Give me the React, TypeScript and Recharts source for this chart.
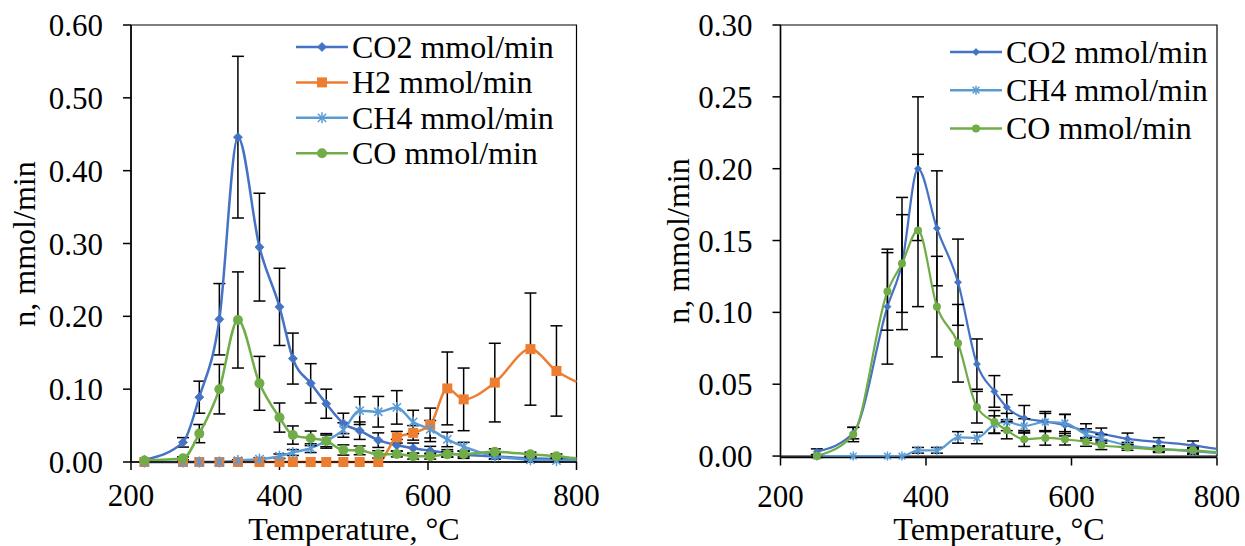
import React from 'react';
import { LineChart, Line, XAxis, YAxis, ErrorBar, ReferenceArea } from 'recharts';

const FONT = '"Liberation Serif", "Times New Roman", serif';
const BLUE = '#4472C4';
const ORANGE = '#ED7D31';
const LBLUE = '#5B9BD5';
const GREEN = '#70AD47';

// ---------- Left chart data ----------
const leftTemps = [218, 270, 292, 319, 344, 373, 400, 418, 442, 463, 486, 508, 533, 558, 580, 603, 626, 648, 690, 738, 773, 800];
const leftCO2 = [0.003, 0.027, 0.089, 0.196, 0.446, 0.295, 0.213, 0.142, 0.108, 0.080, 0.053, 0.043, 0.030, 0.023, 0.019, 0.0155, 0.012, 0.010, 0.008, 0.005, 0.004, 0.003];
const leftCO2Err = [0, 0.0065, 0.022, 0.049, 0.111, 0.074, 0.053, 0.035, 0.027, 0.020, 0.014, 0.012, 0.010, 0.008, 0.007, 0.006, 0.005, 0.005, 0.004, 0.003, 0.002, 0];
const leftH2 = [0, 0, 0, 0, 0, 0, 0, 0, 0, 0, 0, 0, 0, 0.034, 0.040, 0.051, 0.101, 0.086, 0.109, 0.155, 0.125, 0.110];
const leftH2Err = [0, 0, 0, 0, 0, 0, 0, 0, 0, 0, 0, 0, 0, 0.008, 0.010, 0.023, 0.050, 0.043, 0.054, 0.077, 0.062, 0];
const leftCH4 = [0, 0, 0, 0, 0.002, 0.004, 0.008, 0.013, 0.019, 0.029, 0.044, 0.0705, 0.069, 0.075, 0.055, 0.045, 0.031, 0.021, 0.008, 0.003, 0.002, 0.002];
const leftCH4Err = [0, 0, 0, 0, 0.001, 0.002, 0.003, 0.004, 0.006, 0.008, 0.010, 0.019, 0.021, 0.023, 0.016, 0.012, 0.010, 0.006, 0.004, 0.002, 0.001, 0];
const leftCO = [0.002, 0.005, 0.039, 0.100, 0.195, 0.108, 0.061, 0.037, 0.0325, 0.029, 0.0165, 0.016, 0.0105, 0.011, 0.008, 0.008, 0.0105, 0.011, 0.014, 0.0105, 0.008, 0.005];
const leftCOErr = [0, 0.002, 0.0125, 0.034, 0.066, 0.037, 0.020, 0.0125, 0.010, 0.010, 0.007, 0.006, 0.005, 0.004, 0.004, 0.004, 0.004, 0.004, 0.004, 0.003, 0.003, 0];
const leftYTicks = [0, 0.1, 0.2, 0.3, 0.4, 0.5, 0.6];

// ---------- Right chart data ----------
const rightTemps = [250, 300, 347, 367, 389, 415, 444, 470, 494, 511, 535, 564, 591, 620, 641, 677, 720, 767, 800];
const rightCO2 = [0.003, 0.016, 0.104, 0.134, 0.200, 0.1585, 0.121, 0.064, 0.045, 0.034, 0.0265, 0.024, 0.0215, 0.0175, 0.0155, 0.012, 0.0098, 0.0075, 0.005];
const rightCO2Err = [0.002, 0.004, 0.040, 0.046, 0.050, 0.040, 0.030, 0.0175, 0.011, 0.0087, 0.0087, 0.007, 0.0075, 0.005, 0.004, 0.004, 0.003, 0.003, 0];
const rightCH4 = [0, 0, 0, 0, 0.004, 0.004, 0.013, 0.0126, 0.022, 0.0237, 0.021, 0.0237, 0.023, 0.015, 0.012, 0.0075, 0.0052, 0.0033, 0.002];
const rightCH4Err = [0, 0, 0, 0, 0.002, 0.002, 0.004, 0.004, 0.006, 0.006, 0.005, 0.006, 0.006, 0.004, 0.003, 0.002, 0.002, 0.002, 0];
const rightCO = [0.000, 0.015, 0.1146, 0.134, 0.157, 0.104, 0.0785, 0.034, 0.0237, 0.018, 0.0117, 0.0126, 0.0117, 0.0098, 0.0075, 0.006, 0.0045, 0.004, 0.0027];
const rightCOErr = [0.001, 0.005, 0.027, 0.034, 0.053, 0.035, 0.027, 0.011, 0.008, 0.006, 0.005, 0.005, 0.004, 0.003, 0.003, 0.002, 0.002, 0.002, 0];
const rightYTicks = [0, 0.05, 0.1, 0.15, 0.2, 0.25, 0.3];

const xTicks = [200, 400, 600, 800];

const leftData = leftTemps.map((t, i) => ({
  t,
  co2: leftCO2[i], co2e: leftCO2Err[i],
  h2: leftH2[i], h2e: leftH2Err[i],
  ch4: leftCH4[i], ch4e: leftCH4Err[i],
  co: leftCO[i], coe: leftCOErr[i],
  noMark: i === leftTemps.length - 1,
}));

const rightData = rightTemps.map((t, i) => ({
  t,
  co2: rightCO2[i], co2e: rightCO2Err[i],
  ch4: rightCH4[i], ch4e: rightCH4Err[i],
  co: rightCO[i], coe: rightCOErr[i],
  noMark: i === rightTemps.length - 1,
}));

type Shape = 'diamond' | 'square' | 'circle' | 'star';

function Marker({ shape, color, size, x, y }: { shape: Shape; color: string; size: number; x: number; y: number }) {
  if (shape === 'diamond') {
    return <polygon points={`${x},${y - size} ${x + size},${y} ${x},${y + size} ${x - size},${y}`} fill={color} stroke={color} strokeWidth={0.8} />;
  }
  if (shape === 'square') {
    return <rect x={x - size} y={y - size} width={2 * size} height={2 * size} fill={color} />;
  }
  if (shape === 'circle') {
    return <circle cx={x} cy={y} r={size} fill={color} />;
  }
  const d = size * 0.75;
  return (
    <g stroke={color} strokeWidth={1.5}>
      <line x1={x - d} y1={y - d} x2={x + d} y2={y + d} />
      <line x1={x - d} y1={y + d} x2={x + d} y2={y - d} />
      <line x1={x} y1={y - size} x2={x} y2={y + size} />
    </g>
  );
}

function mkDot(shape: Shape, color: string, size: number) {
  return (props: any) => {
    const { cx, cy, index } = props;
    const key = `dot-${shape}-${color}-${index}`;
    if (cx == null || cy == null || (props.payload && props.payload.noMark)) return <g key={key} />;
    return (
      <g key={key}>
        <Marker shape={shape} color={color} size={size} x={cx} y={cy} />
      </g>
    );
  };
}

const tickStyle = { fill: '#000', fontSize: 31, fontFamily: FONT, style: { fontFamily: FONT } };
const axisLineStyle = { stroke: '#000', strokeWidth: 1.5 };

function LegendBox({ left, top, rowGap, items, size }: { left: number; top: number; rowGap: number; items: { label: string; color: string; shape: Shape; size: number }[]; size: number }) {
  return (
    <svg style={{ position: 'absolute', left, top, overflow: 'visible' }} width={280} height={rowGap * items.length}>
      {items.map((it, i) => {
        const y = 18 + i * rowGap;
        return (
          <g key={it.label}>
            <line x1={0} y1={y} x2={52} y2={y} stroke={it.color} strokeWidth={2.5} />
            <Marker shape={it.shape} color={it.color} size={it.size} x={26} y={y} />
            <text x={56} y={y} dominantBaseline="central" fontFamily={FONT} fontSize={size} fill="#000">{it.label}</text>
          </g>
        );
      })}
    </svg>
  );
}

const titleStyle: React.CSSProperties = {
  position: 'absolute',
  fontFamily: FONT,
  fontSize: 32,
  color: '#000',
  whiteSpace: 'nowrap',
  lineHeight: 0.85,
};

export default function App() {
  return (
    <div style={{ position: 'absolute', left: 0, top: 0, width: 1245, height: 546, background: '#fff', overflow: 'hidden', fontFamily: FONT }}>
      {/* Left chart */}
      <div style={{ position: 'absolute', left: 0, top: 0 }}>
        <LineChart width={620} height={546} data={leftData} margin={{ top: 25, right: 43.5, bottom: 0, left: 0 }} style={{ fontFamily: FONT }}>
          <XAxis dataKey="t" type="number" domain={[200, 800]} ticks={xTicks} interval={0} height={84}
            tickSize={8} tickMargin={14} axisLine={axisLineStyle} tickLine={axisLineStyle} tick={tickStyle} />
          <YAxis type="number" domain={[0, 0.6]} ticks={leftYTicks} interval={0} width={131}
            tickSize={8} tickMargin={20} axisLine={axisLineStyle} tickLine={axisLineStyle} tick={tickStyle}
            tickFormatter={(v: number) => v.toFixed(2)} />
          <ReferenceArea x1={200} x2={800} y1={0} y2={0.6} fill="none" stroke="#000" strokeWidth={1.2} ifOverflow="visible" />
          <Line type="monotone" dataKey="co2" stroke={BLUE} strokeWidth={2.5} dot={mkDot('diamond', BLUE, 4.5)} activeDot={false} isAnimationActive={false}>
            <ErrorBar dataKey="co2e" width={6} stroke="#000" strokeWidth={1.5} direction="y" />
          </Line>
          <Line type="monotone" dataKey="h2" stroke={ORANGE} strokeWidth={2.5} dot={mkDot('square', ORANGE, 5)} activeDot={false} isAnimationActive={false}>
            <ErrorBar dataKey="h2e" width={6} stroke="#000" strokeWidth={1.5} direction="y" />
          </Line>
          <Line type="monotone" dataKey="ch4" stroke={LBLUE} strokeWidth={2.5} dot={mkDot('star', LBLUE, 5.5)} activeDot={false} isAnimationActive={false}>
            <ErrorBar dataKey="ch4e" width={6} stroke="#000" strokeWidth={1.5} direction="y" />
          </Line>
          <Line type="monotone" dataKey="co" stroke={GREEN} strokeWidth={2.5} dot={mkDot('circle', GREEN, 5)} activeDot={false} isAnimationActive={false}>
            <ErrorBar dataKey="coe" width={6} stroke="#000" strokeWidth={1.5} direction="y" />
          </Line>
        </LineChart>
      </div>

      {/* Right chart */}
      <div style={{ position: 'absolute', left: 620, top: 0 }}>
        <LineChart width={625} height={546} data={rightData} margin={{ top: 25, right: 28, bottom: 0, left: 0 }} style={{ fontFamily: FONT }}>
          <XAxis dataKey="t" type="number" domain={[200, 800]} ticks={xTicks} interval={0} height={88.5}
            tickSize={8} tickMargin={19} axisLine={axisLineStyle} tickLine={axisLineStyle} tick={tickStyle} />
          <YAxis type="number" domain={[0, 0.3]} ticks={rightYTicks} interval={0} width={160.5}
            tickSize={8} tickMargin={20} axisLine={axisLineStyle} tickLine={axisLineStyle} tick={tickStyle}
            tickFormatter={(v: number) => v.toFixed(2)} />
          <ReferenceArea x1={200} x2={800} y1={0} y2={0.3} fill="none" stroke="#000" strokeWidth={1.2} ifOverflow="visible" />
          <Line type="monotone" dataKey="co2" stroke={BLUE} strokeWidth={2.2} dot={mkDot('diamond', BLUE, 3.5)} activeDot={false} isAnimationActive={false}>
            <ErrorBar dataKey="co2e" width={6} stroke="#000" strokeWidth={1.5} direction="y" />
          </Line>
          <Line type="monotone" dataKey="ch4" stroke={LBLUE} strokeWidth={2.2} dot={mkDot('star', LBLUE, 4.5)} activeDot={false} isAnimationActive={false}>
            <ErrorBar dataKey="ch4e" width={6} stroke="#000" strokeWidth={1.5} direction="y" />
          </Line>
          <Line type="monotone" dataKey="co" stroke={GREEN} strokeWidth={2.2} dot={mkDot('circle', GREEN, 4)} activeDot={false} isAnimationActive={false}>
            <ErrorBar dataKey="coe" width={6} stroke="#000" strokeWidth={1.5} direction="y" />
          </Line>
        </LineChart>
      </div>

      {/* Legends */}
      <LegendBox left={296} top={29} rowGap={35.4} size={32} items={[
        { label: 'CO2 mmol/min', color: BLUE, shape: 'diamond', size: 4.5 },
        { label: 'H2 mmol/min', color: ORANGE, shape: 'square', size: 5 },
        { label: 'CH4 mmol/min', color: LBLUE, shape: 'star', size: 5.5 },
        { label: 'CO mmol/min', color: GREEN, shape: 'circle', size: 5 },
      ]} />
      <LegendBox left={950} top={34} rowGap={38.2} size={32} items={[
        { label: 'CO2 mmol/min', color: BLUE, shape: 'diamond', size: 3.5 },
        { label: 'CH4 mmol/min', color: LBLUE, shape: 'star', size: 4.5 },
        { label: 'CO mmol/min', color: GREEN, shape: 'circle', size: 4 },
      ]} />

      {/* Axis titles */}
      <div style={{ ...titleStyle, left: 25, top: 243.5, transform: 'translate(-50%, -50%) rotate(-90deg)' }}>n, mmol/min</div>
      <div style={{ ...titleStyle, left: 679, top: 241, transform: 'translate(-50%, -50%) rotate(-90deg)' }}>n, mmol/min</div>
      <div style={{ ...titleStyle, left: 354, top: 530, transform: 'translate(-50%, -50%)' }}>Temperature, °C</div>
      <div style={{ ...titleStyle, left: 999, top: 530, transform: 'translate(-50%, -50%)' }}>Temperature, °C</div>
    </div>
  );
}
